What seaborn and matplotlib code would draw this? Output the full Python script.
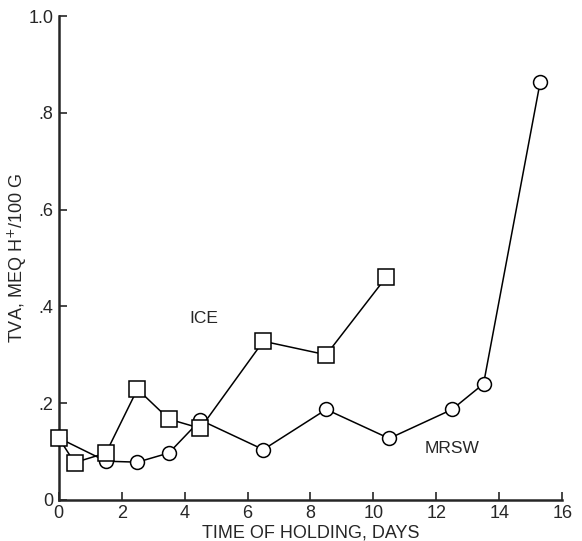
import pandas as pd
import matplotlib
matplotlib.use("Agg")
import matplotlib.pyplot as plt
import seaborn as sns

# Values
ice_days = [0, 0.5, 1.5, 2.5, 3.5, 4.5, 6.5, 8.5, 10.4]
ice_tva = [0.128, 0.077, 0.097, 0.229, 0.167, 0.148, 0.328, 0.300, 0.460]

mrsw_days = [0, 1.5, 2.5, 3.5, 4.5, 6.5, 8.5, 10.5, 12.5, 13.5, 15.3]
mrsw_tva = [0.128, 0.080, 0.078, 0.097, 0.165, 0.104, 0.187, 0.127, 0.187, 0.240, 0.864]

x_ticks = [0, 2, 4, 6, 8, 10, 12, 14, 16]
y_ticks = [0, 0.2, 0.4, 0.6, 0.8, 1.0]
y_tick_labels = ["0", ".2", ".4", ".6", ".8", "1.0"]

ice = pd.DataFrame({"Dias": ice_days, "TVA": ice_tva})
mrsw = pd.DataFrame({"Dias": mrsw_days, "TVA": mrsw_tva})

sns.set_style("ticks")
plt.rcParams["font.family"] = ["Liberation Sans", "DejaVu Sans"]

fig = plt.figure(figsize=(5.82, 5.41), dpi=100)
ax = fig.add_axes([0.101, 0.076, 0.865, 0.894])

# MRSW (circulos) e ICE (quadrados)
sns.lineplot(data=mrsw, x="Dias", y="TVA", ax=ax, color="black", linewidth=1.1,
             marker="o", markersize=10, markerfacecolor="white",
             markeredgecolor="black", markeredgewidth=1.1, zorder=3, clip_on=False)
sns.lineplot(data=ice, x="Dias", y="TVA", ax=ax, color="black", linewidth=1.1,
             marker="s", markersize=11.5, markerfacecolor="white",
             markeredgecolor="black", markeredgewidth=1.1, zorder=4, clip_on=False)

ax.text(4.6, 0.375, "ICE", fontsize=12.5, ha="center", va="center")
ax.text(12.5, 0.107, "MRSW", fontsize=12.5, ha="center", va="center")

ax.set_xlim(0, 16)
ax.set_ylim(0, 1.0)
ax.set_xticks(x_ticks)
ax.set_yticks(y_ticks)
ax.set_yticklabels(y_tick_labels)
ax.tick_params(direction="in", length=6, width=1.2, labelsize=13, pad=4)

ax.set_xlabel("TIME OF HOLDING, DAYS", fontsize=13)
ax.set_ylabel("TVA, MEQ H$^{+}$/100 G", fontsize=13)
ax.xaxis.set_label_coords(0.5, -0.05)
ax.yaxis.set_label_coords(-0.06, 0.5)

for side in ["top", "right"]:
    ax.spines[side].set_visible(False)
for side in ["left", "bottom"]:
    ax.spines[side].set_linewidth(1.8)

fig.savefig("out.png", dpi=100)
